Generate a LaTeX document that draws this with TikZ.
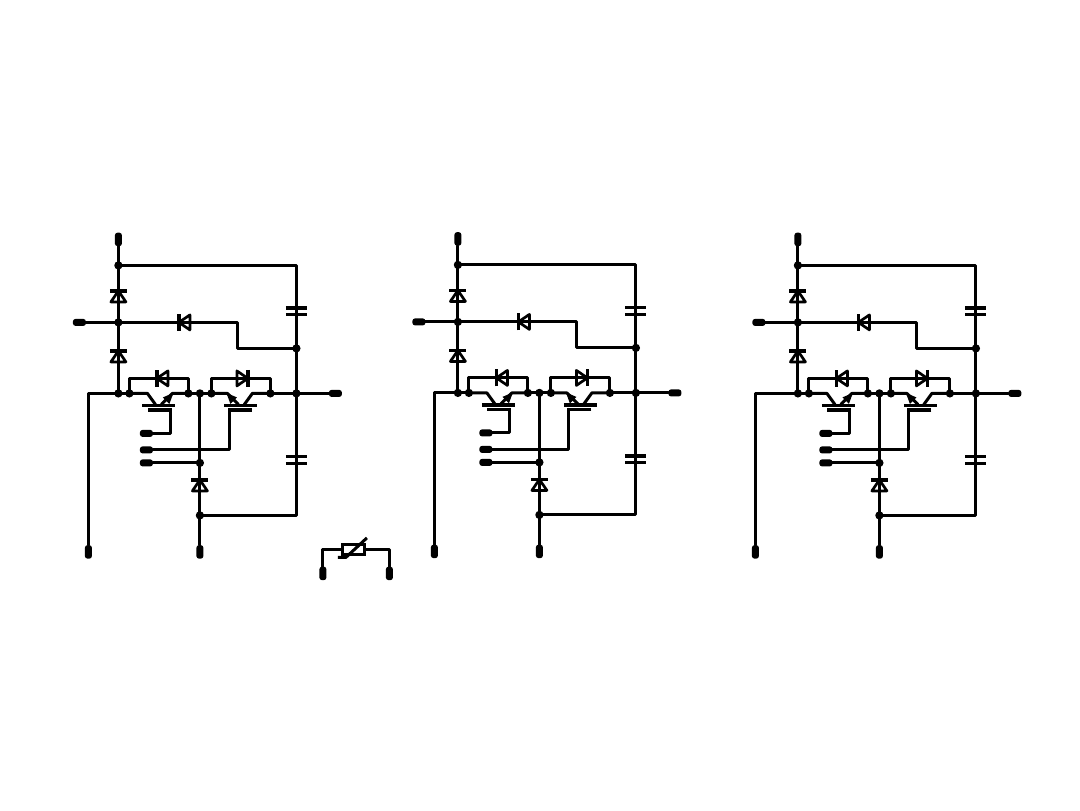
\documentclass[tikz,border=0pt]{standalone}
\usetikzlibrary{calc}
\tikzset{
  wire/.style={line width=3pt,line cap=round,line join=round,black},
  plate/.style={line width=3.4pt,black},
  termh/.style={rectangle,rounded corners=2.6pt,fill=black,inner sep=0pt,minimum width=13pt,minimum height=7pt,outer sep=0pt},
  termv/.style={termh,minimum width=7pt,minimum height=13.5pt},
  junction/.style={circle,fill=black,inner sep=0pt,minimum size=8.3pt}
}
% diode: position, rotation (0 = pointing up)
\newcommand{\dio}[3]{%
  \begin{scope}[shift={(#1,#2)},rotate=#3]
    \draw[wire,fill=white,line width=2.7pt] (-7.5,5.5) -- (7.5,5.5) -- (0,-5.5) -- cycle;
    \draw[wire,line cap=butt,line width=3.2pt] (-8.5,-5.5) -- (8.5,-5.5);
    \draw[wire,line cap=butt] (0,-5.5) -- (0,5.5);
  \end{scope}}
% capacitor
\newcommand{\capa}[2]{%
  \draw[plate] (#1-10.5,#2-3.3) -- (#1+10.5,#2-3.3);
  \draw[plate] (#1-10.5,#2+3.3) -- (#1+10.5,#2+3.3);}
% IGBT centred at x; second argument = side of emitter arrow (1 right,-1 left)
\newcommand{\igbt}[2]{%
  \draw[wire] ($(#1,393)+(#2*-29.5,0)$) -- ($(#1,393)+(#2*-11.5,0)$) -- ($(#1,393)+(#2*-3.5,11)$);
  \draw[wire] ($(#1,393)+(#2*29.5,0)$) -- ($(#1,393)+(#2*13.5,0)$) -- ($(#1,393)+(#2*2.5,11)$);
  \draw[plate] (#1-16.5,405) -- (#1+16.5,405);
  \draw[plate] ($(#1,409.5)+(#2*-11,0)$) -- ($(#1,409.5)+(#2*13,0)$);
  \fill[black] ($(#1,393)+(#2*14.5,-0.5)$) -- ($(#1,393)+(#2*4,4)$) -- ($(#1,393)+(#2*10.5,10.5)$) -- cycle;}
\newcommand{\unitc}[4]{%
\begin{scope}[shift={(#2,#3)}]
  \coordinate (#1A) at (118,265);
  \coordinate (#1B) at (296,265);
  \coordinate (#1C) at (296,348);
  \coordinate (#1D) at (237,348);
  \coordinate (#1E) at (237,322);
  \coordinate (#1F) at (118,322);
  \coordinate (#1G) at (118,393);
  \coordinate (#1P) at (296,393);
  \coordinate (#1railT) at (#4-#2,393);
  \coordinate (#1M) at (199.5,393);
  \coordinate (#1N) at (199.5,462.5);
  \coordinate (#1Q) at (199.5,515);
  \coordinate (#1R) at (296,515);
  \coordinate (#1a) at (129,393);
  \coordinate (#1b) at (188,393);
  \coordinate (#1c) at (211,393);
  \coordinate (#1d) at (270,393);
  % terminals
  \node[termv] (#1top) at (118,239) {};
  \node[termh] (#1left) at (79,322) {};
  \node[termh] (#1out) at (335,393) {};
  \node[termv] (#1rail) at (#4-#2,551.5) {};
  \node[termv] (#1mid) at (199.5,551.5) {};
  \node[termh] (#1g1) at (146,433) {};
  \node[termh] (#1g2) at (146,449.5) {};
  \node[termh] (#1g3) at (146,462.5) {};
  % wires
  \draw[wire] (#1top) -- (#1G);
  \draw[wire] (#1A) -- (#1B) -- (#1R) -- (#1Q);
  \draw[wire] (#1C) -- (#1D) -- (#1E) -- (#1left);
  \draw[wire] (#1rail) -- (#1railT) -- (#1a);
  \draw[wire] (#1b) -- (#1c);
  \draw[wire] (#1d) -- (#1out);
  \draw[wire] (#1M) -- (#1mid);
  \draw[wire] (#1a) |- (159,378) -| (#1b);
  \draw[wire] (#1c) |- (241,378) -| (#1d);
  \draw[wire] (170,409.5) -- (170,433) -- (#1g1);
  \draw[wire] (229,409.5) -- (229,449.5) -- (#1g2);
  \draw[wire] (#1N) -- (#1g3);
  % parts
  \dio{118}{296}{0}
  \dio{118}{356}{0}
  \dio{184}{322}{90}
  \dio{162}{378}{90}
  \dio{242}{378}{-90}
  \dio{199.5}{485}{0}
  \capa{296}{311}
  \capa{296}{459.5}
  \igbt{158.5}{1}
  \igbt{240.5}{-1}
  % junctions
  \foreach \p in {A,C,F,G,a,b,M,c,d,P,N,Q}{\node[junction] (#1dot\p) at (#1\p) {};}
\end{scope}}
\begin{document}
\begin{tikzpicture}[x=1pt,y=-1pt]
  \useasboundingbox (0,0) rectangle (1080,811);
  \begin{scope}[shift={(0.4,0.4)}]
  \unitc{u}{0}{0}{88}
  \unitc{v}{339.5}{-0.5}{434}
  \unitc{w}{679.5}{0}{755}
  % varistor
  \coordinate (cl) at (322.5,549);
  \coordinate (cr) at (389,549);
  \node[termv] (tl) at (322.5,573) {};
  \node[termv] (tr) at (389,573) {};
  \node[draw,line width=3pt,minimum width=22.5pt,minimum height=10.5pt,inner sep=0pt] (vr) at (353,549) {};
  \draw[wire] (tl) -- (cl) -- (vr.west);
  \draw[wire] (tr) -- (cr) -- (vr.east);
  \draw[wire,line cap=butt] (337.5,557) -- (345.5,557) -- (366.5,537.5);
  \end{scope}
\end{tikzpicture}
\end{document}
